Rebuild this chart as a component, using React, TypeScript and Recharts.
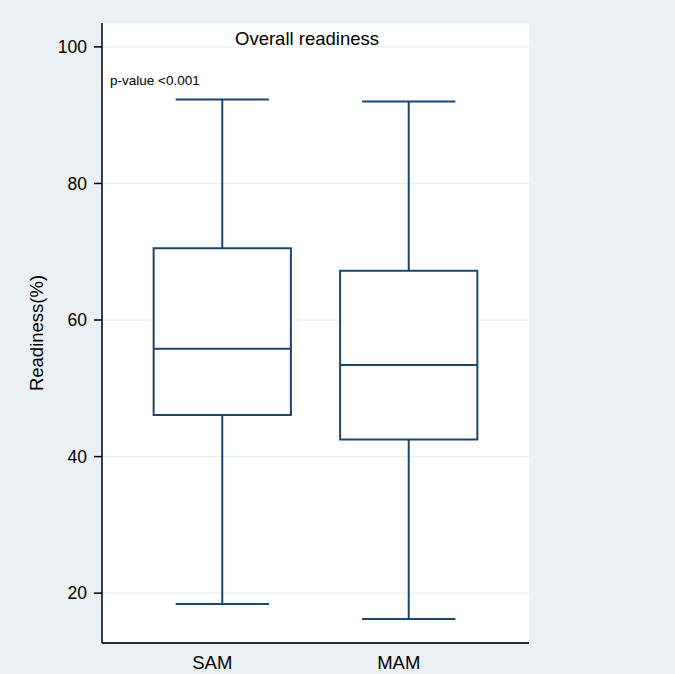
import * as React from "react";
import {
  ComposedChart,
  XAxis,
  YAxis,
  CartesianGrid,
  ReferenceArea,
  ReferenceLine,
} from "recharts";

const categories = ["SAM", "MAM"];
const minValues = [18.4, 16.2];
const q1Values = [46.1, 42.5];
const medianValues = [55.8, 53.4];
const q3Values = [70.5, 67.2];
const maxValues = [92.3, 92.0];
const yTicks = [20, 40, 60, 80, 100];

const NAVY = "#1A476F";
const BOX_HALF = 0.368;
const CAP_HALF = 0.25;
const FONT = '"Liberation Sans", Arial, sans-serif';

const data = categories.map((name, i) => ({
  pos: i + 1,
  name,
  min: minValues[i],
  q1: q1Values[i],
  median: medianValues[i],
  q3: q3Values[i],
  max: maxValues[i],
}));

export default function App() {
  return (
    <div
      style={{
        position: "absolute",
        top: 0,
        left: 0,
        width: 675,
        height: 674,
        background: "#EAF0F3",
        fontFamily: FONT,
        color: "#000",
      }}
    >
      <ComposedChart
        width={675}
        height={674}
        data={data}
        margin={{ top: 23, right: 146, bottom: 0, left: 0 }}
        style={{ fontFamily: FONT }}
      >
        <CartesianGrid
          vertical={false}
          fill="#FFFFFF"
          fillOpacity={1}
          stroke="#E6F0F4"
          strokeWidth={1.2}
        />
        <XAxis
          type="number"
          dataKey="pos"
          domain={[0.355, 2.645]}
          ticks={[1, 2]}
          allowDataOverflow
          tickFormatter={(v) => categories[Number(v) - 1] ?? ""}
          tickLine={false}
          tickSize={0}
          tickMargin={13}
          height={31}
          axisLine={{ stroke: "#2a2a2a", strokeWidth: 2 }}
          tick={{ fontSize: 18.5, fill: "#000", dx: -10 } as any}
        />
        <YAxis
          type="number"
          domain={[12.7, 103.5]}
          ticks={yTicks}
          allowDataOverflow
          width={102}
          tickSize={8}
          tickMargin={7}
          tickLine={{ stroke: "#000", strokeWidth: 1.5 }}
          axisLine={{ stroke: "#000", strokeWidth: 1.5 }}
          tick={{ fontSize: 17.5, fill: "#000" }}
        />
        {data.map((d) => (
          <ReferenceArea
            key={`box-${d.name}`}
            x1={d.pos - BOX_HALF}
            x2={d.pos + BOX_HALF}
            y1={d.q1}
            y2={d.q3}
            fill="#FFFFFF"
            fillOpacity={1}
            stroke={NAVY}
            strokeWidth={2}
          />
        ))}
        {data.map((d) => (
          <ReferenceLine
            key={`med-${d.name}`}
            segment={[
              { x: d.pos - BOX_HALF, y: d.median },
              { x: d.pos + BOX_HALF, y: d.median },
            ]}
            stroke={NAVY}
            strokeWidth={2}
          />
        ))}
        {data.map((d) => (
          <ReferenceLine
            key={`uw-${d.name}`}
            segment={[
              { x: d.pos, y: d.q3 },
              { x: d.pos, y: d.max },
            ]}
            stroke={NAVY}
            strokeWidth={2}
          />
        ))}
        {data.map((d) => (
          <ReferenceLine
            key={`lw-${d.name}`}
            segment={[
              { x: d.pos, y: d.min },
              { x: d.pos, y: d.q1 },
            ]}
            stroke={NAVY}
            strokeWidth={2}
          />
        ))}
        {data.map((d) => (
          <ReferenceLine
            key={`ucap-${d.name}`}
            segment={[
              { x: d.pos - CAP_HALF, y: d.max },
              { x: d.pos + CAP_HALF, y: d.max },
            ]}
            stroke={NAVY}
            strokeWidth={2}
          />
        ))}
        {data.map((d) => (
          <ReferenceLine
            key={`lcap-${d.name}`}
            segment={[
              { x: d.pos - CAP_HALF, y: d.min },
              { x: d.pos + CAP_HALF, y: d.min },
            ]}
            stroke={NAVY}
            strokeWidth={2}
          />
        ))}
      </ComposedChart>

      <div
        style={{
          position: "absolute",
          left: 307,
          top: 38.5,
          transform: "translate(-50%, -50%)",
          fontSize: 18.5,
          whiteSpace: "nowrap",
        }}
      >
        Overall readiness
      </div>
      <div
        style={{
          position: "absolute",
          left: 110,
          top: 80,
          transform: "translateY(-50%)",
          fontSize: 13.5,
          whiteSpace: "nowrap",
        }}
      >
        p-value &lt;0.001
      </div>
      <div
        style={{
          position: "absolute",
          left: 37,
          top: 333,
          transform: "translate(-50%, -50%) rotate(-90deg)",
          fontSize: 18.5,
          whiteSpace: "nowrap",
        }}
      >
        Readiness(%)
      </div>
    </div>
  );
}
